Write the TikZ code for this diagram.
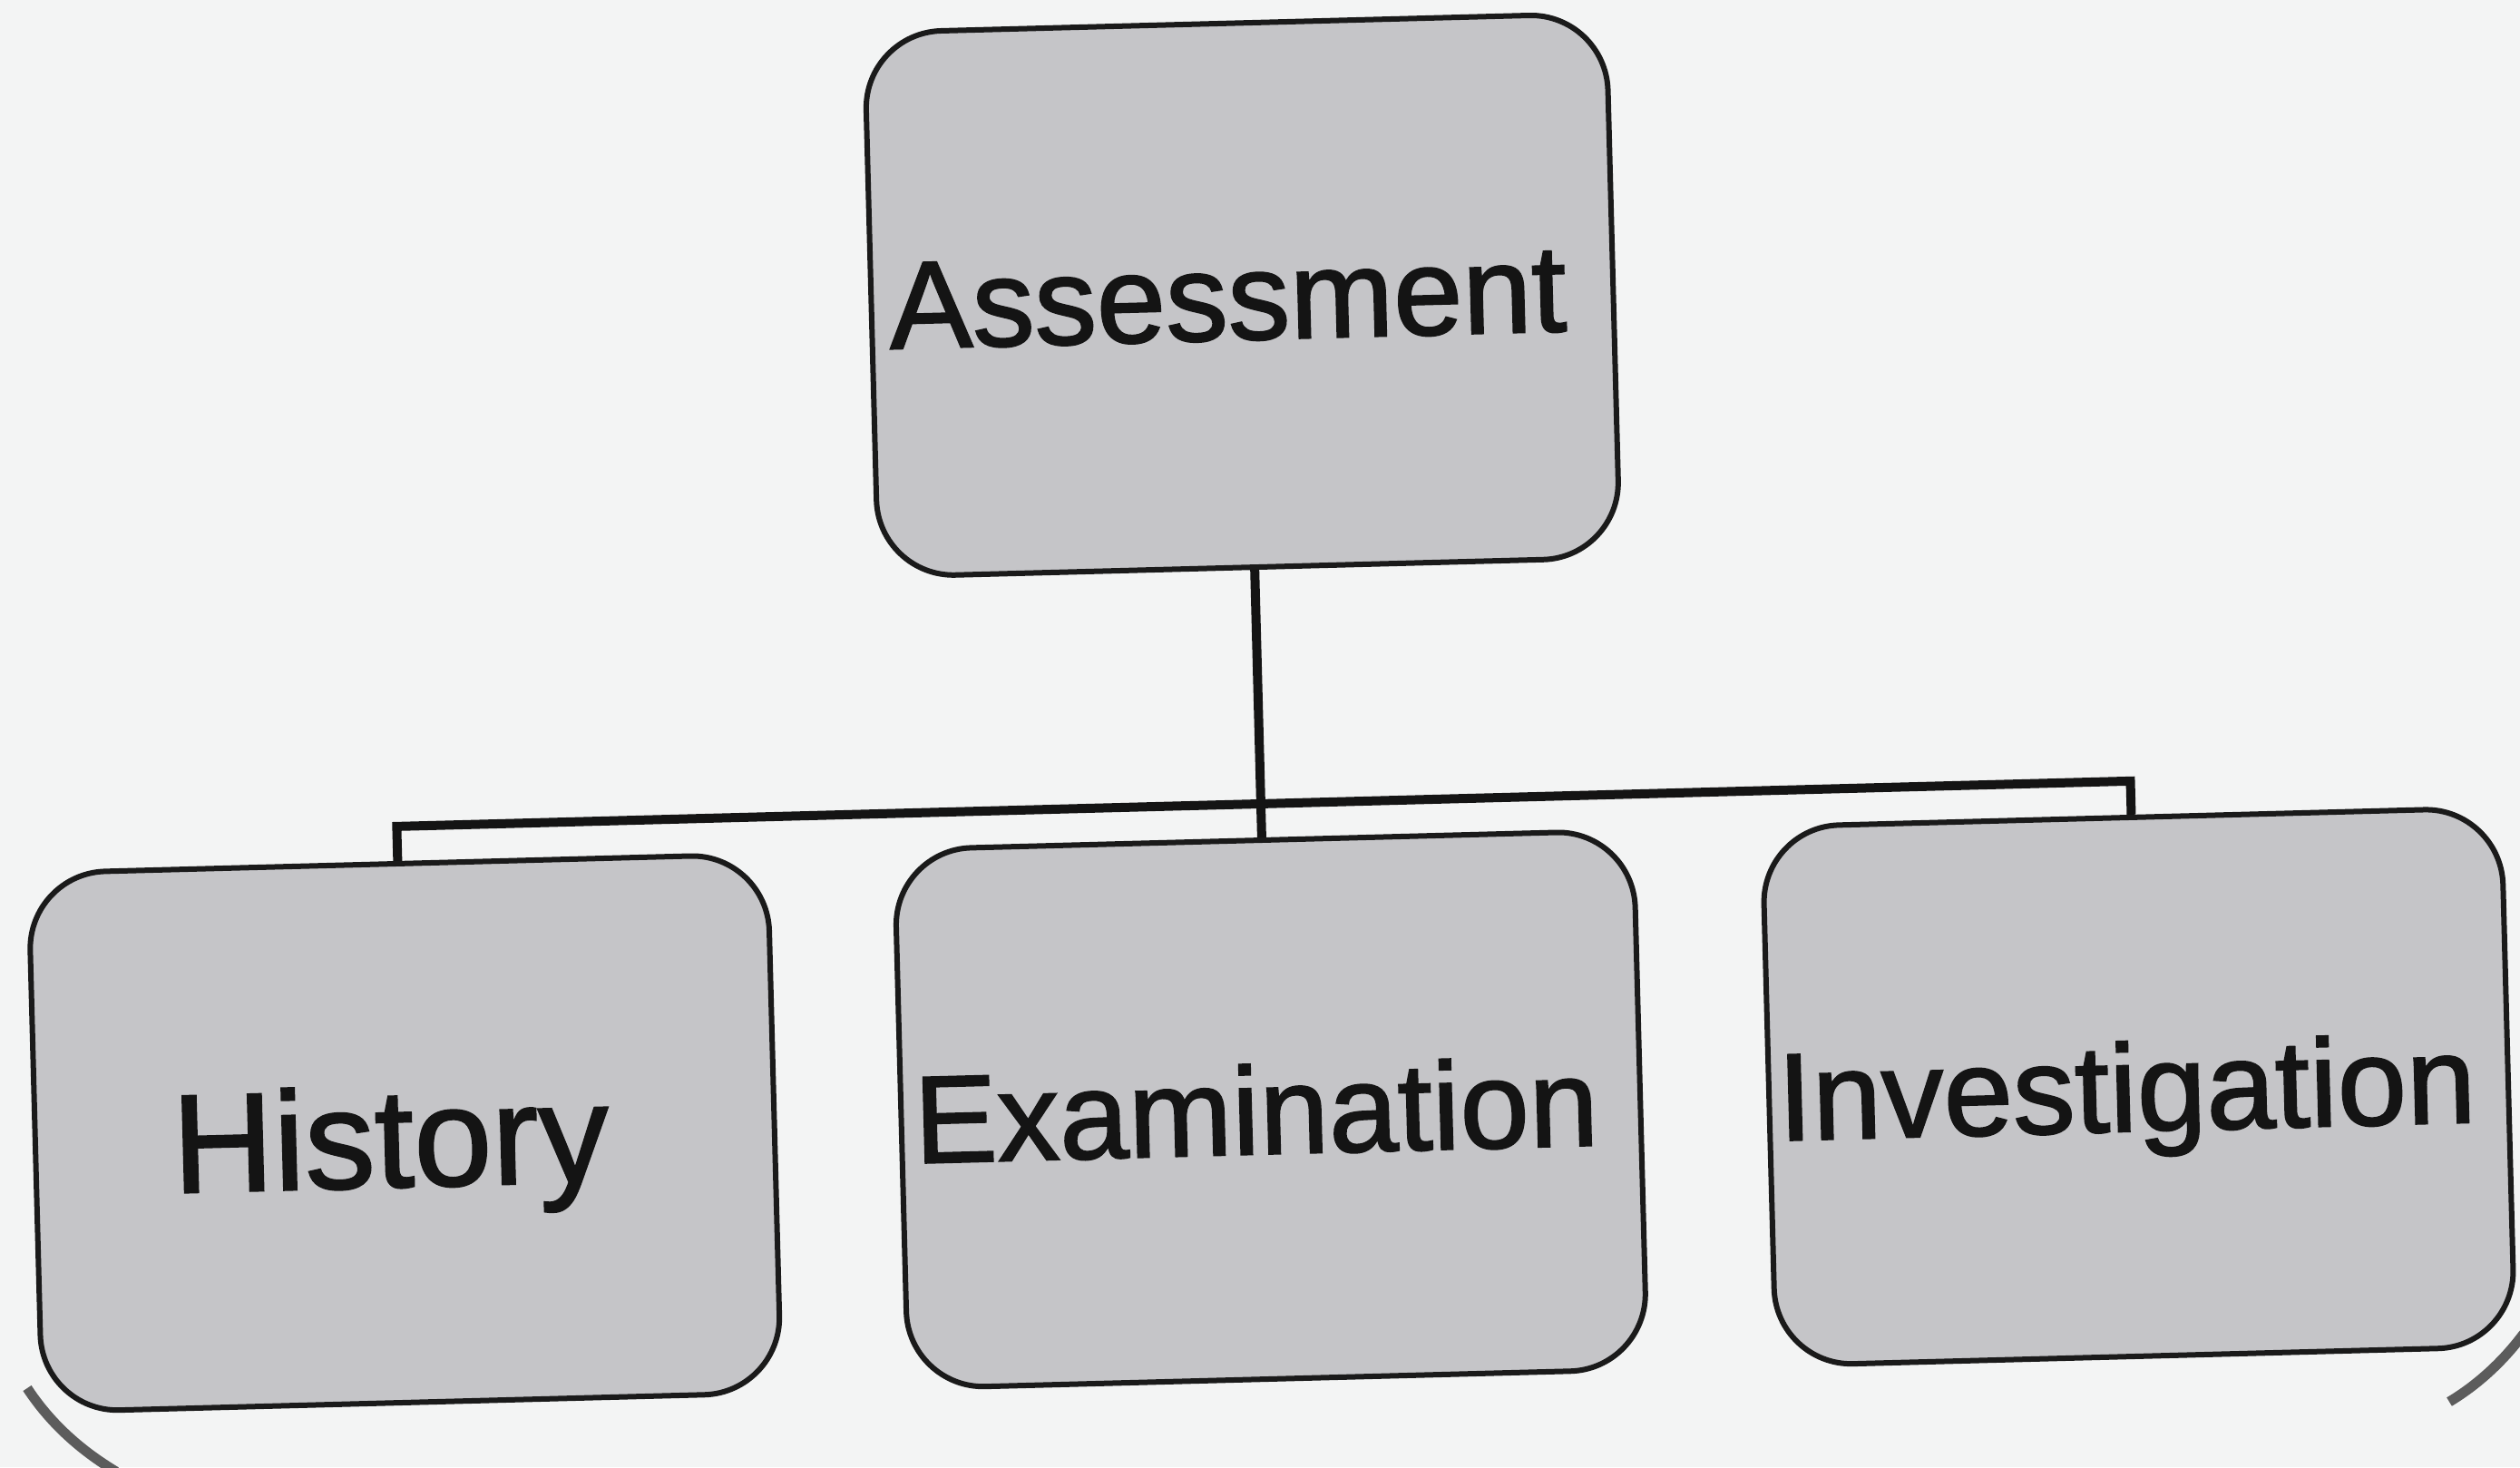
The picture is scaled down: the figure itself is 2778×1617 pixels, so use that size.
\documentclass[tikz,border=0pt]{standalone}
\usepackage{fontspec}
\setmainfont{Liberation Sans}[FakeBold=1.5]
\definecolor{paper}{RGB}{243,244,244}
\definecolor{boxfill}{RGB}{197,197,200}
\definecolor{boxline}{RGB}{26,26,26}
\definecolor{ink}{RGB}{20,20,20}
\definecolor{rimgray}{RGB}{92,92,92}
\begin{document}
\begin{tikzpicture}[x=0.1mm,y=-0.1mm,
  box/.style={draw=boxline, line width=0.6mm, fill=boxfill,
    rounded corners=8.5mm, minimum width=81.5mm, minimum height=59.4mm,
    inner sep=0pt},
  boxtext/.style={inner sep=0pt, text depth=0pt, text height=27.9pt,
    font=\fontsize{39}{47}\selectfont, text=ink},
  conn/.style={draw=ink, line width=1mm, line join=miter},
  rim/.style={draw=rimgray, line width=1.1mm}]

% page
\fill[paper] (0,0) rectangle (2778,1617);
\useasboundingbox (0,0) rectangle (2778,1617);

% curved rim of the frame at the bottom corners
\draw[rim] (30,1530) .. controls (55,1568) and (88,1598) .. (128,1622);
\draw[rim] (2700,1545) .. controls (2730,1527) and (2758,1502) .. (2782,1470);

% the chart, set slightly askew
\begin{scope}[rotate around={1.5:(1389,808)}, transform shape]
  \node[box, minimum width=81.8mm, minimum height=60mm] (assess) at (1382,325) {};
  \node[box] (hist) at (435,1224) {};
  \node[box] (exam) at (1390,1223) {};
  \node[box] (inv)  at (2347,1223) {};

  \node[boxtext] (assessT) at ([xshift=-1.6mm]assess.center) {Assessment};
  \node[boxtext, text height=31.5pt, font=\fontsize{44}{53}\selectfont] (histT) at ([xshift=-1.6mm,yshift=-0.4mm]hist.center) {History};
  \node[boxtext] (examT) at ([xshift=-1.6mm]exam.center) {Examination};
  \node[boxtext] (invT)  at ([xshift=-1.3mm]inv.center) {Investigation};

  % tree connectors
  \coordinate (bus)  at (1388,886);
  \coordinate (busL) at (435,886);
  \coordinate (busR) at (2347,886);
  \draw[conn] (assess.south -| bus) -- (bus);
  \draw[conn] (hist.north) -- (busL) -- (busR) -- (inv.north);
  \draw[conn] (bus) -- (exam.north -| bus);
\end{scope}
\end{tikzpicture}
\end{document}
